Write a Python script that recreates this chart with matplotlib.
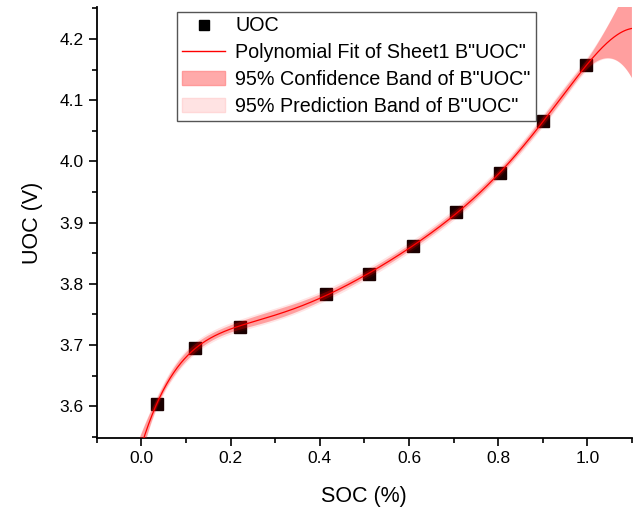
import numpy as np
import matplotlib
matplotlib.use('Agg')
import matplotlib.pyplot as plt
from matplotlib.lines import Line2D
from matplotlib.patches import Patch
from matplotlib.ticker import MultipleLocator

# Datos
soc = [0.034, 0.121, 0.220, 0.415, 0.511, 0.608, 0.706, 0.805, 0.901, 0.998]
uoc = [3.603, 3.695, 3.730, 3.783, 3.816, 3.861, 3.917, 3.981, 4.066, 4.157]

DEGREE = 6
T_TABLE = {1: 12.706, 2: 4.303, 3: 3.182, 4: 2.776, 5: 2.571, 6: 2.447}

plt.rcParams['font.family'] = ['Liberation Sans', 'DejaVu Sans']

# Ajuste polinomico y bandas de confianza / prediccion
x = np.array(soc)
y = np.array(uoc)
X = np.vander(x, DEGREE + 1)
beta, *_ = np.linalg.lstsq(X, y, rcond=None)
resid = y - X @ beta
dof = len(x) - (DEGREE + 1)
s2 = np.sum(resid ** 2) / dof
cov = np.linalg.inv(X.T @ X)
t = T_TABLE[dof]

xg = np.linspace(-0.1, 1.1, 600)
Xg = np.vander(xg, DEGREE + 1)
yg = Xg @ beta
lev = np.einsum('ij,jk,ik->i', Xg, cov, Xg)
conf = t * np.sqrt(s2 * lev)
pred = t * np.sqrt(s2 * (1 + lev))

fig = plt.figure(figsize=(6.37, 5.14), dpi=100)
ax = fig.add_axes([0.152, 0.148, 0.84, 0.838])

ax.plot(x, y, 's', color='#1a0000', markersize=8, zorder=2)
ax.fill_between(xg, yg - pred, yg + pred, color='red', alpha=0.10, lw=0, zorder=3)
ax.fill_between(xg, yg - conf, yg + conf, color='red', alpha=0.30, lw=0, zorder=4)
ax.plot(xg, yg, color='red', lw=0.9, zorder=5)

ax.set_xlim(-0.1, 1.1)
ax.set_ylim(3.548, 4.252)
ax.xaxis.set_major_locator(MultipleLocator(0.2))
ax.xaxis.set_minor_locator(MultipleLocator(0.1))
ax.yaxis.set_major_locator(MultipleLocator(0.1))
ax.yaxis.set_minor_locator(MultipleLocator(0.05))
ax.tick_params(which='major', direction='out', length=6, width=1.2, labelsize=12.5)
ax.tick_params(which='minor', direction='out', length=3.5, width=1.2)
ax.xaxis.set_major_formatter(plt.FuncFormatter(lambda v, p: f'{v:.1f}'))
ax.yaxis.set_major_formatter(plt.FuncFormatter(lambda v, p: f'{v:.1f}'))

for side in ['top', 'right']:
    ax.spines[side].set_visible(False)
for side in ['left', 'bottom']:
    ax.spines[side].set_linewidth(1.3)

ax.set_xlabel('SOC (%)', fontsize=15.5, labelpad=14)
ax.set_ylabel('UOC (V)', fontsize=15.5, labelpad=12)

handles = [
    Line2D([], [], ls='none', marker='s', color='black', markersize=7),
    Line2D([], [], color='red', lw=1),
    Patch(facecolor='#ffaaaa', edgecolor='#ff9a9a'),
    Patch(facecolor='#ffe3e3', edgecolor='#ffd8d8'),
]
labels = ['UOC', 'Polynomial Fit of Sheet1 B"UOC"',
          '95% Confidence Band of B"UOC"', '95% Prediction Band of B"UOC"']
leg = ax.legend(handles, labels, loc='upper left', bbox_to_anchor=(0.15, 0.99),
                borderaxespad=0, fontsize=14.2, fancybox=False, framealpha=1,
                edgecolor='#555555', handlelength=2.2, labelspacing=0.4,
                borderpad=0.25, handletextpad=0.5)
leg.get_frame().set_linewidth(1.0)

fig.savefig('out.png', dpi=100)
